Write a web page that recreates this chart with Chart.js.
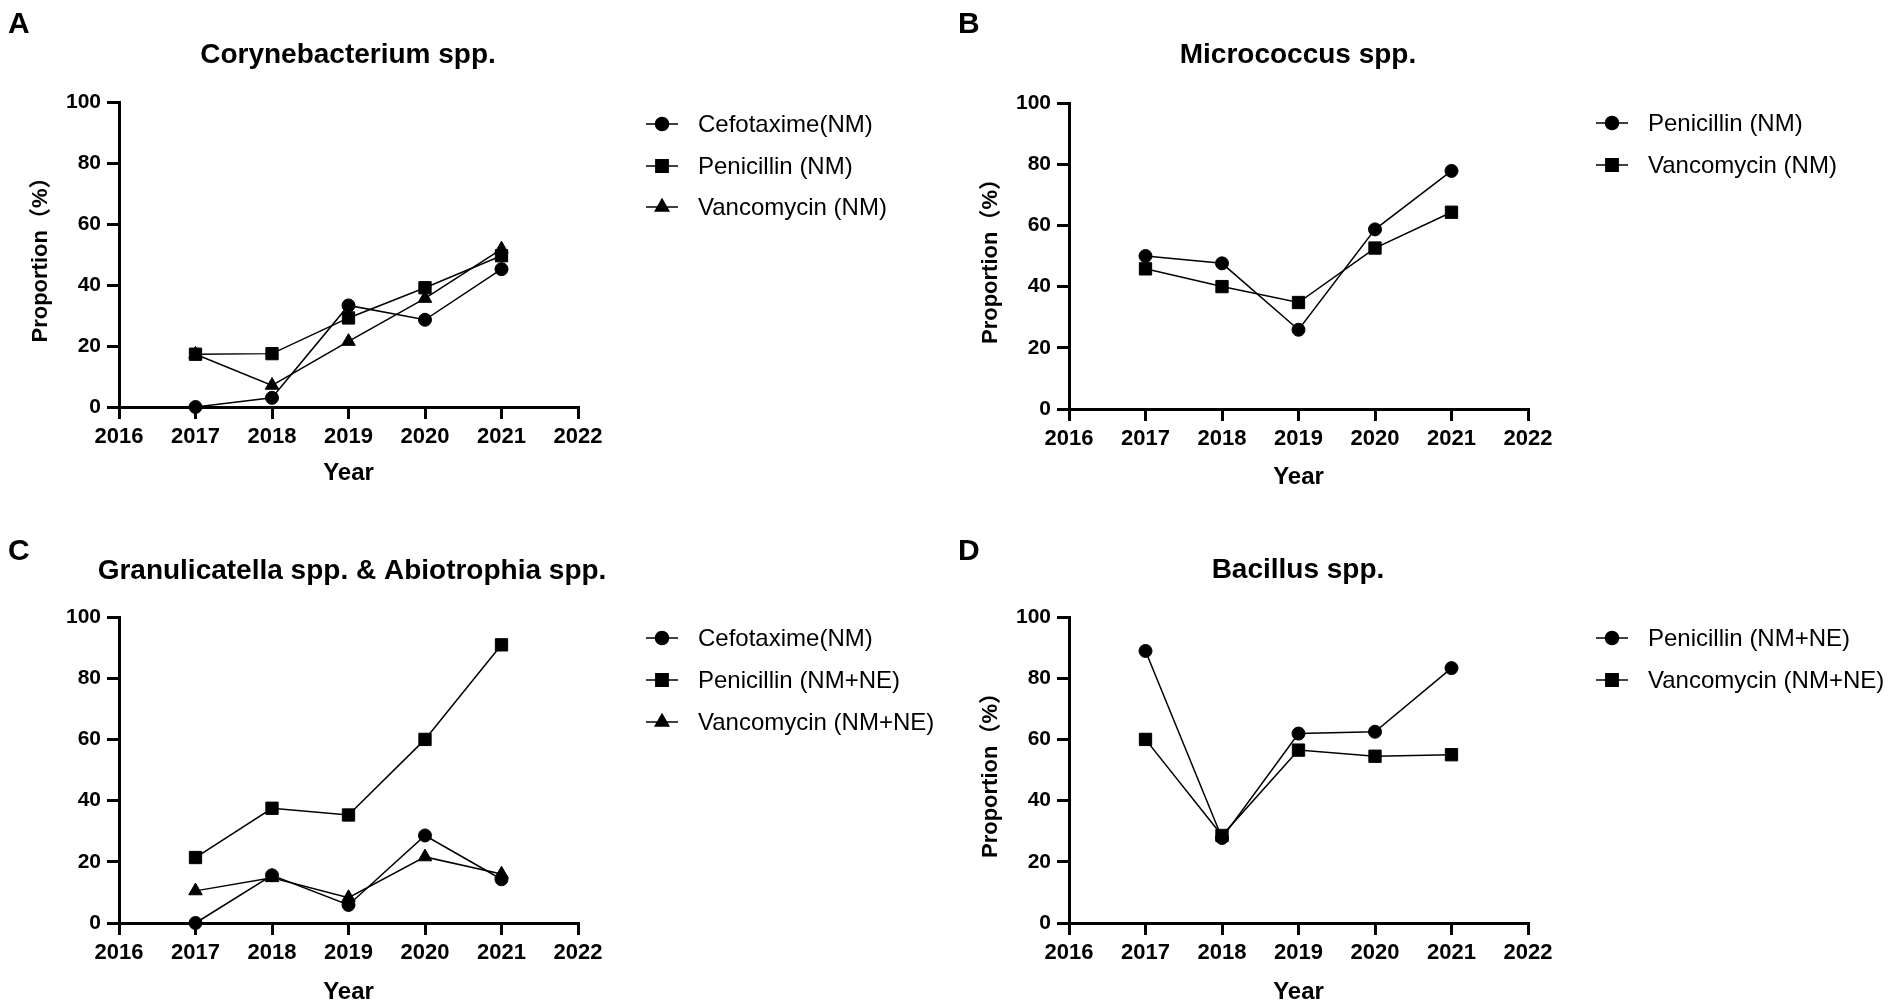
<!DOCTYPE html>
<html><head><meta charset="utf-8">
<script src="https://cdn.jsdelivr.net/npm/chart.js@4/dist/chart.umd.min.js"></script>
<style>
html,body{margin:0;padding:0;background:#fff;width:1901px;height:1007px;overflow:hidden;}
canvas{position:absolute;}
</style></head><body>
<canvas id="cA" width="950" height="500" style="left:0;top:0;width:950px;height:500px"></canvas>
<canvas id="cB" width="951" height="500" style="left:950px;top:0;width:951px;height:500px"></canvas>
<canvas id="cC" width="950" height="507" style="left:0;top:500px;width:950px;height:507px"></canvas>
<canvas id="cD" width="951" height="507" style="left:950px;top:500px;width:951px;height:507px"></canvas>
<script>
// ---- data ----
const years = [2017, 2018, 2019, 2020, 2021];
const xTicks = [2016, 2017, 2018, 2019, 2020, 2021, 2022];
const yTicks = [0, 20, 40, 60, 80, 100];

const corynCefotaxime = [0, 3.0, 33.3, 28.6, 45.2];
const corynPenicillin = [17.3, 17.5, 29.2, 39.1, 49.6];
const corynVancomycin = [17.3, 7.1, 21.5, 35.6, 51.8];

const microPenicillin = [50.0, 47.6, 25.9, 58.7, 77.8];
const microVancomycin = [45.8, 40.0, 34.8, 52.6, 64.3];

const granCefotaxime = [0, 15.6, 5.9, 28.6, 14.3];
const granPenicillin = [21.4, 37.5, 35.3, 60.0, 90.9];
const granVancomycin = [10.5, 14.8, 8.3, 21.6, 16.0];

const bacPenicillin = [88.9, 27.8, 61.9, 62.5, 83.3];
const bacVancomycin = [60.0, 28.6, 56.5, 54.5, 55.0];

const letters = ['A', 'B', 'C', 'D'];
const titles = ['Corynebacterium spp.', 'Micrococcus spp.', 'Granulicatella spp. & Abiotrophia spp.', 'Bacillus spp.'];
const xTitle = 'Year';
const yTitle = 'Proportion（%）';
const labelsA = ['Cefotaxime(NM)', 'Penicillin (NM)', 'Vancomycin (NM)'];
const labelsB = ['Penicillin (NM)', 'Vancomycin (NM)'];
const labelsC = ['Cefotaxime(NM)', 'Penicillin (NM+NE)', 'Vancomycin (NM+NE)'];
const labelsD = ['Penicillin (NM+NE)', 'Vancomycin (NM+NE)'];

// ---- styles ----
const FONT = "'Liberation Sans', Arial, 'Noto Sans CJK SC', sans-serif";
const markerStyles = {
  circle: {pointStyle: 'circle', radius: 6.5},
  rect: {pointStyle: 'rect', radius: 8.7},
  triangle: {pointStyle: 'triangle', radius: 7.8}
};

const panels = [
  {id: 'cA', W: 950, H: 500, letter: letters[0], title: titles[0], titleX: 348, titleBase: 63, letterBase: 33,
   plot: {l: 119, t: 102, r: 578, b: 407}, xTitlePad: 12.6, yTitle: true, legendY: [124, 166, 207],
   series: [[labelsA[0], corynCefotaxime, 'circle'], [labelsA[1], corynPenicillin, 'rect'], [labelsA[2], corynVancomycin, 'triangle']]},
  {id: 'cB', W: 951, H: 500, letter: letters[1], title: titles[1], titleX: 348, titleBase: 63, letterBase: 33,
   plot: {l: 119, t: 103, r: 578, b: 409}, xTitlePad: 8.6, yTitle: true, legendY: [123, 165],
   series: [[labelsB[0], microPenicillin, 'circle'], [labelsB[1], microVancomycin, 'rect']]},
  {id: 'cC', W: 950, H: 507, letter: letters[2], title: titles[2], titleX: 352, titleBase: 79, letterBase: 60,
   plot: {l: 119, t: 117, r: 578, b: 423}, xTitlePad: 0.6, yTitle: false, legendY: [138, 180, 222],
   series: [[labelsC[0], granCefotaxime, 'circle'], [labelsC[1], granPenicillin, 'rect'], [labelsC[2], granVancomycin, 'triangle']]},
  {id: 'cD', W: 951, H: 507, letter: letters[3], title: titles[3], titleX: 348, titleBase: 78, letterBase: 60,
   plot: {l: 119, t: 117, r: 578, b: 423}, xTitlePad: 0.6, yTitle: true, legendY: [138, 180],
   series: [[labelsD[0], bacPenicillin, 'circle'], [labelsD[1], bacVancomycin, 'rect']]}
];

const decoPlugin = {
  id: 'deco',
  afterDraw(chart, args, opts) {
    const ctx = chart.ctx;
    ctx.save();
    ctx.fillStyle = '#000';
    ctx.strokeStyle = '#000';
    // panel letter
    ctx.font = `bold 30px ${FONT}`;
    ctx.textAlign = 'left';
    ctx.textBaseline = 'alphabetic';
    ctx.fillText(opts.letter, 8, opts.letterBase);
    // title
    ctx.font = `bold 28px ${FONT}`;
    ctx.textAlign = 'center';
    ctx.fillText(opts.title, opts.titleX, opts.titleBase);
    // legend
    ctx.font = `24px ${FONT}`;
    ctx.textAlign = 'left';
    ctx.textBaseline = 'middle';
    chart.data.datasets.forEach((ds, i) => {
      const y = opts.legendY[i];
      const cx = 662;
      ctx.lineWidth = 1.5;
      ctx.beginPath();
      ctx.moveTo(cx - 16, y);
      ctx.lineTo(cx + 16, y);
      ctx.stroke();
      Chart.helpers.drawPoint(ctx, {pointStyle: ds.pointStyle, radius: ds.pointRadius, rotation: 0, borderWidth: 1}, cx, y);
      ctx.fillStyle = '#000';
      ctx.fillText(ds.label, 698, y + 1);
    });
    ctx.restore();
  }
};

panels.forEach(p => {
  const datasets = p.series.map(([label, vals, mk]) => ({
    label,
    data: years.map((x, i) => ({x, y: vals[i]})),
    borderColor: '#000',
    backgroundColor: '#000',
    borderWidth: 1.5,
    pointStyle: markerStyles[mk].pointStyle,
    pointRadius: markerStyles[mk].radius,
    pointBorderWidth: 1,
    pointBackgroundColor: '#000',
    pointBorderColor: '#000',
    tension: 0,
    clip: false,
    fill: false
  }));
  const xHeight = p.H - p.plot.b;
  new Chart(document.getElementById(p.id), {
    type: 'line',
    data: {datasets},
    options: {
      responsive: false,
      animation: false,
      devicePixelRatio: 1,
      events: [],
      layout: {padding: {left: 0, top: p.plot.t, right: p.W - p.plot.r, bottom: 0}},
      plugins: {
        legend: {display: false},
        tooltip: {enabled: false},
        title: {display: false},
        deco: {letter: p.letter, title: p.title, titleX: p.titleX, titleBase: p.titleBase, letterBase: p.letterBase, legendY: p.legendY}
      },
      scales: {
        x: {
          type: 'linear', min: xTicks[0], max: xTicks[xTicks.length - 1],
          afterBuildTicks: s => { s.ticks = xTicks.map(v => ({value: v})); },
          afterFit: s => { s.height = xHeight; },
          ticks: {color: '#000', font: {family: FONT, size: 22, weight: 'bold'}, padding: 5, maxRotation: 0, autoSkip: false, callback: v => String(v)},
          grid: {display: true, drawOnChartArea: false, drawTicks: true, tickLength: 12, color: '#000', lineWidth: 3},
          border: {display: true, color: '#000', width: 3},
          title: {display: true, text: xTitle, color: '#000', font: {family: FONT, size: 24, weight: 'bold'}, padding: {top: 0, bottom: p.xTitlePad}}
        },
        y: {
          type: 'linear', min: yTicks[0], max: yTicks[yTicks.length - 1],
          afterBuildTicks: s => { s.ticks = yTicks.map(v => ({value: v})); },
          afterFit: s => { s.width = p.plot.l; },
          ticks: {color: '#000', font: {family: FONT, size: 21, weight: 'bold'}, padding: 6, callback: v => String(v)},
          grid: {display: true, drawOnChartArea: false, drawTicks: true, tickLength: 12, color: '#000', lineWidth: 3},
          border: {display: true, color: '#000', width: 3},
          title: {display: p.yTitle, text: yTitle, color: '#000', font: {family: FONT, size: 22, weight: 'bold'}, padding: {top: 28, bottom: 0}}
        }
      }
    },
    plugins: [decoPlugin]
  });
});
</script>
</body></html>
